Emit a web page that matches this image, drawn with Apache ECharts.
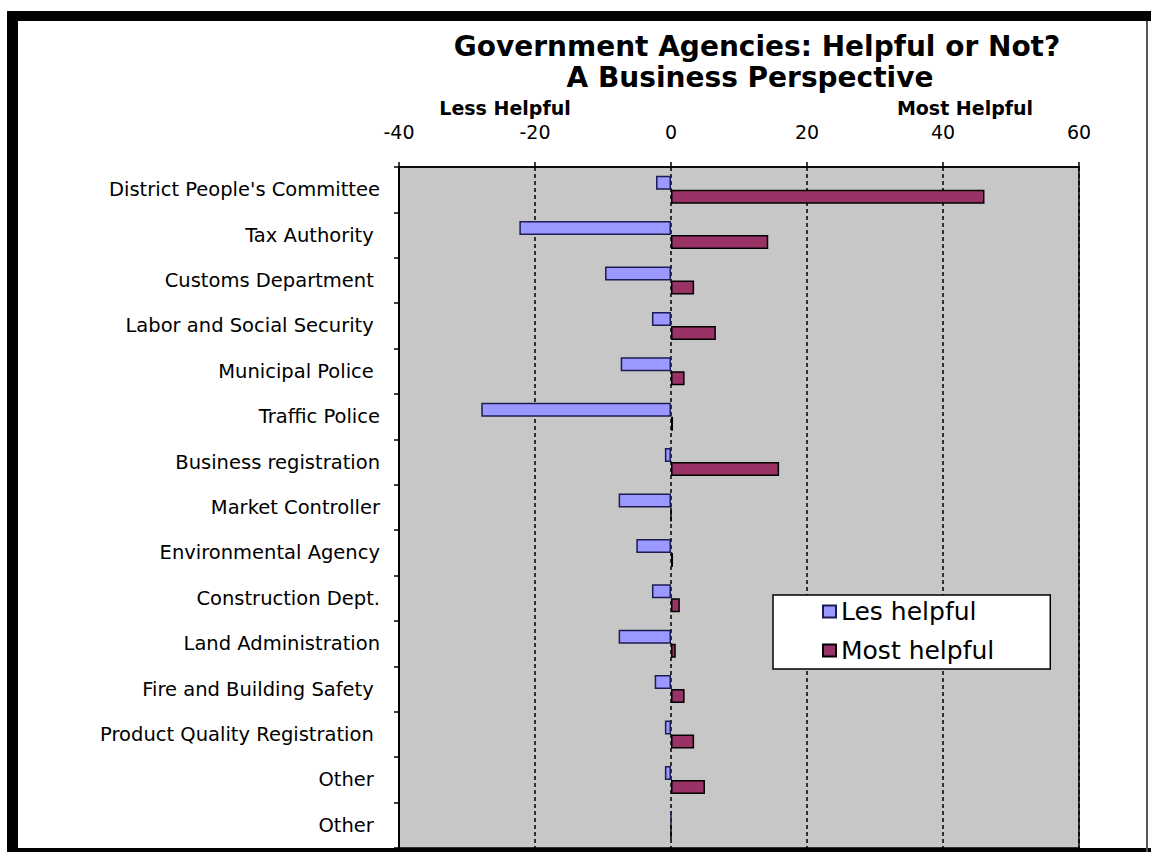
<!DOCTYPE html>
<html>
<head>
<meta charset="utf-8">
<title>Government Agencies: Helpful or Not?</title>
<script src="https://cdn.jsdelivr.net/npm/echarts@6/dist/echarts.min.js"></script>
<style>
  html, body { margin: 0; padding: 0; background: #ffffff; }
  #chart { width: 1151px; height: 852px; }
</style>
</head>
<body>
<div id="chart"></div>
<script>
// Agencies, top to bottom
const categories = [
  "District People's Committee",
  "Tax Authority ",
  "Customs Department ",
  "Labor and Social Security ",
  "Municipal Police ",
  "Traffic Police",
  "Business registration",
  "Market Controller",
  "Environmental Agency",
  "Construction Dept.",
  "Land Administration",
  "Fire and Building Safety ",
  "Product Quality Registration ",
  "Other ",
  "Other "
];

// Share of firms rating each agency less helpful (drawn to the left of zero)
const lessHelpful = [-2.2, -22.3, -9.7, -2.8, -7.4, -27.9, -0.9, -7.7, -5.1, -2.8, -7.7, -2.4, -0.9, -0.9, 0];
// Share of firms rating each agency most helpful
const mostHelpful = [46.1, 14.3, 3.4, 6.6, 2.0, 0.3, 15.9, 0, 0.3, 1.3, 0.7, 2.0, 3.4, 5.0, 0];

const xTicks = { min: -40, max: 60, step: 20 };

const titleLines = ["Government Agencies: Helpful or Not?", "A Business Perspective"];
const sideCaptions = ["Less Helpful", "Most Helpful"];
const seriesNames = ["Les helpful", "Most helpful"];

const chart = echarts.init(document.getElementById('chart'), null, { renderer: 'svg' });

const FONT = "'DejaVu Sans', 'Liberation Sans', Arial, sans-serif";

chart.setOption({
  backgroundColor: '#ffffff',
  animation: false,
  grid: {
    left: 399, top: 167, width: 680, height: 681,
    show: true,
    backgroundColor: '#c7c7c7',
    borderColor: '#000000',
    borderWidth: 1.5
  },
  legend: {
    orient: 'vertical',
    left: 773, top: 595,
    data: seriesNames,
    backgroundColor: '#ffffff',
    borderColor: '#000000',
    borderWidth: 1.5,
    padding: [4, 56, 6, 49],
    itemGap: 14,
    itemWidth: 13, itemHeight: 12,
    icon: 'rect',
    textStyle: { fontFamily: FONT, fontSize: 25, color: '#000000', lineHeight: 25 }
  },
  xAxis: {
    type: 'value',
    position: 'top',
    min: xTicks.min, max: xTicks.max, interval: xTicks.step,
    axisLine: { show: true, lineStyle: { color: '#000000', width: 1.5 } },
    axisTick: { show: true, length: 5, lineStyle: { color: '#000000', width: 1.5 } },
    axisLabel: { color: '#000000', fontFamily: FONT, fontSize: 19, margin: 26 },
    splitLine: { show: true, lineStyle: { color: '#000000', width: 1.5, type: [4, 3] } }
  },
  yAxis: [
    {
      type: 'category',
      data: categories,
      inverse: true,
      position: 'left',
      axisLine: { show: false },
      axisTick: { show: false },
      axisLabel: { color: '#000000', fontFamily: FONT, fontSize: 19.5, margin: 19 }
    },
    {
      type: 'category',
      data: categories,
      inverse: true,
      position: 'left',
      axisLine: { show: true, onZero: true, lineStyle: { color: '#000000', width: 2 } },
      axisTick: { show: true, length: 5, lineStyle: { color: '#000000', width: 1.5 } },
      axisLabel: { show: false },
      splitLine: { show: false }
    }
  ],
  series: [
    {
      name: seriesNames[0],
      type: 'bar',
      yAxisIndex: 0,
      data: lessHelpful,
      barWidth: 14,
      barGap: '0%',
      itemStyle: { color: '#9999ff', borderColor: '#1c1c50', borderWidth: 1.5 }
    },
    {
      name: seriesNames[1],
      type: 'bar',
      yAxisIndex: 0,
      data: mostHelpful,
      barWidth: 14,
      barGap: '0%',
      itemStyle: { color: '#993366', borderColor: '#000000', borderWidth: 1.5 }
    }
  ],
  graphic: [
    // outer frame
    { type: 'rect', shape: { x: 7, y: 11, width: 1144, height: 10 }, style: { fill: '#000000' } },
    { type: 'rect', shape: { x: 7, y: 11, width: 11, height: 841 }, style: { fill: '#000000' } },
    { type: 'rect', shape: { x: 7, y: 848, width: 1144, height: 4 }, style: { fill: '#000000' } },
    { type: 'rect', shape: { x: 1146, y: 21, width: 2, height: 831 }, style: { fill: '#555555' } },
    // titles
    { type: 'text', x: 757, y: 46, style: { text: titleLines[0], textAlign: 'center', textVerticalAlign: 'middle', font: "bold 28px " + FONT, fill: '#000000' } },
    { type: 'text', x: 750, y: 77, style: { text: titleLines[1], textAlign: 'center', textVerticalAlign: 'middle', font: "bold 28px " + FONT, fill: '#000000' } },
    { type: 'text', x: 505, y: 108, style: { text: sideCaptions[0], textAlign: 'center', textVerticalAlign: 'middle', font: "bold 19px " + FONT, fill: '#000000' } },
    { type: 'text', x: 965, y: 108, style: { text: sideCaptions[1], textAlign: 'center', textVerticalAlign: 'middle', font: "bold 19px " + FONT, fill: '#000000' } }
  ]
});
</script>
</body>
</html>
